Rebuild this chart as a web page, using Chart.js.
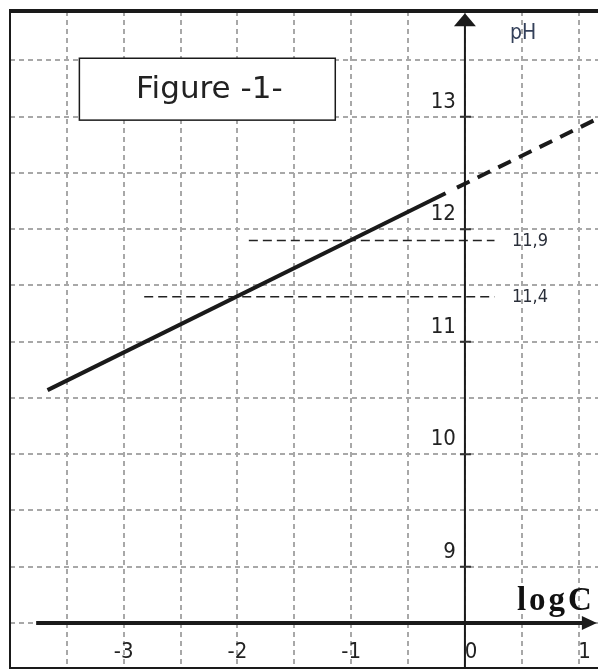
<!DOCTYPE html>
<html>
<head>
<meta charset="utf-8">
<script src="https://cdn.jsdelivr.net/npm/chart.js@4.4.1/dist/chart.umd.min.js"></script>
<style>
  html, body { margin: 0; padding: 0; background: #fff; }
  #wrap { position: relative; width: 598px; height: 670px; }
</style>
</head>
<body>
<div id="wrap"><canvas id="fig"></canvas></div>
<script>
// pH = f(logC), solid part then dashed extrapolation
const solidLogC = [-3.67, -0.17];
const solidPH = [10.57, 12.32];
const extLogC = [-0.07, 1.2];
const extPH = [12.37, 13.0];

// horizontal reading lines
const refPH = [11.9, 11.4];
const refFrom = [-1.9, -2.82];
const refTo = [0.26, 0.26];
const refLabels = ['11,9', '11,4'];

// tick labels
const xTicks = [-3, -2, -1, 0, 1];
const yTicks = [9, 10, 11, 12, 13];

// axis ranges and crossing point
const X_MIN = -4.0, X_MAX = 1.17;
const Y_MIN = 8.1, Y_MAX = 13.94;
const CROSS_PH = 8.5;
const CROSS_LOGC = 0;

const INK = '#1a1a1a';
const GRID = '#a8a8a8';

const toPoints = (xs, ys) => xs.map((x, i) => ({ x, y: ys[i] }));

// Decorations: frame, arrows, labels, title box -------------------------------
const decor = {
	id: 'decor',
	afterDraw(chart) {
		const { ctx, chartArea: a, scales: { x, y } } = chart;
		const ox = x.getPixelForValue(CROSS_LOGC);
		const oy = y.getPixelForValue(CROSS_PH);
		ctx.save();

		// frame (left, top, bottom)
		ctx.strokeStyle = INK;
		ctx.lineWidth = 2;
		ctx.beginPath();
		ctx.moveTo(a.left, a.top);
		ctx.lineTo(a.left, a.bottom);
		ctx.lineTo(a.right, a.bottom);
		ctx.stroke();
		ctx.lineWidth = 4;
		ctx.beginPath();
		ctx.moveTo(a.left - 1, a.top);
		ctx.lineTo(a.right, a.top);
		ctx.stroke();

		// logC axis with arrow
		const xStart = x.getPixelForValue(-3.77);
		const xTip = x.getPixelForValue(1.16);
		ctx.lineWidth = 4;
		ctx.beginPath();
		ctx.moveTo(xStart, oy);
		ctx.lineTo(xTip - 10, oy);
		ctx.stroke();
		ctx.fillStyle = INK;
		ctx.beginPath();
		ctx.moveTo(xTip, oy);
		ctx.lineTo(xTip - 15, oy - 7);
		ctx.lineTo(xTip - 15, oy + 7);
		ctx.closePath();
		ctx.fill();

		// pH axis with arrow
		const yTip = y.getPixelForValue(13.92);
		ctx.lineWidth = 2;
		ctx.beginPath();
		ctx.moveTo(ox, a.bottom);
		ctx.lineTo(ox, yTip + 10);
		ctx.stroke();
		ctx.beginPath();
		ctx.moveTo(ox, yTip);
		ctx.lineTo(ox - 11, yTip + 13);
		ctx.lineTo(ox + 11, yTip + 13);
		ctx.closePath();
		ctx.fill();

		// small tick marks on the pH axis
		ctx.lineWidth = 2;
		ctx.strokeStyle = '#333';
		yTicks.forEach(v => {
			const py = y.getPixelForValue(v);
			ctx.beginPath();
			ctx.moveTo(ox - 5, py);
			ctx.lineTo(ox + 6, py);
			ctx.stroke();
		});

		// tick labels
		ctx.fillStyle = '#222';
		ctx.font = '22px "DejaVu Sans Condensed", "DejaVu Sans", sans-serif';
		ctx.textBaseline = 'alphabetic';
		ctx.textAlign = 'right';
		yTicks.forEach(v => {
			ctx.fillText(String(v), ox - 9, y.getPixelForValue(v) - 9);
		});
		ctx.textAlign = 'center';
		xTicks.forEach(v => {
			ctx.fillText(String(v), x.getPixelForValue(v) + (v >= 0 ? 6 : 0), oy + 35);
		});

		// reading line labels
		ctx.font = '18px "DejaVu Sans Condensed", "DejaVu Sans", sans-serif';
		ctx.textAlign = 'left';
		ctx.textBaseline = 'middle';
		ctx.fillStyle = '#2a2f3a';
		refPH.forEach((v, i) => {
			ctx.fillText(refLabels[i], ox + 47, y.getPixelForValue(v) + 1);
		});

		// axis names
		ctx.fillStyle = '#34405a';
		ctx.font = '21px "DejaVu Sans Condensed", "DejaVu Sans", sans-serif';
		ctx.textBaseline = 'middle';
		ctx.fillText('pH', ox + 45, y.getPixelForValue(13.74));
		ctx.fillStyle = '#111';
		ctx.font = 'bold 33px "Liberation Serif", "DejaVu Serif", serif';
		ctx.textBaseline = 'alphabetic';
		ctx.letterSpacing = '3px';
		ctx.fillText('logC', ox + 52, oy - 13);
		ctx.letterSpacing = '0px';

		// title box
		const bx0 = x.getPixelForValue(-3.39), bx1 = x.getPixelForValue(-1.14);
		const by0 = y.getPixelForValue(13.52), by1 = y.getPixelForValue(12.97);
		ctx.fillStyle = '#fff';
		ctx.fillRect(bx0, by0, bx1 - bx0, by1 - by0);
		ctx.strokeStyle = INK;
		ctx.lineWidth = 1.5;
		ctx.strokeRect(bx0, by0, bx1 - bx0, by1 - by0);
		ctx.fillStyle = '#222';
		ctx.font = '31px "DejaVu Sans", sans-serif';
		ctx.textAlign = 'center';
		ctx.textBaseline = 'middle';
		ctx.fillText('Figure -1-', (bx0 + bx1) / 2 + 2, (by0 + by1) / 2 + 1);

		ctx.restore();
	}
};

// Chart --------------------------------------------------------------------------
const refSets = refPH.map((v, i) => ({
	data: toPoints([refFrom[i], refTo[i]], [v, v]),
	borderColor: '#222',
	borderWidth: 1.5,
	borderDash: [9, 5],
	pointRadius: 0
}));

new Chart(document.getElementById('fig'), {
	type: 'line',
	data: {
		datasets: [
			{
				data: toPoints(solidLogC, solidPH),
				borderColor: INK,
				borderWidth: 4,
				pointRadius: 0
			},
			{
				data: toPoints(extLogC, extPH),
				borderColor: INK,
				borderWidth: 4,
				borderDash: [14, 9],
				pointRadius: 0
			},
			...refSets
		]
	},
	options: {
		animation: false,
		responsive: true,
		maintainAspectRatio: false,
		layout: { padding: { left: 10, top: 11, right: 0, bottom: 2 } },
		plugins: { legend: { display: false }, tooltip: { enabled: false } },
		scales: {
			x: {
				type: 'linear',
				min: X_MIN,
				max: X_MAX,
				ticks: { display: false, stepSize: 0.5, includeBounds: false },
				grid: { color: GRID, lineWidth: 2, drawTicks: false },
				border: { display: false, dash: [5, 4] }
			},
			y: {
				type: 'linear',
				min: Y_MIN,
				max: Y_MAX,
				ticks: { display: false, stepSize: 0.5, includeBounds: false },
				grid: { color: GRID, lineWidth: 2, drawTicks: false },
				border: { display: false, dash: [5, 4] }
			}
		}
	},
	plugins: [decor]
});
</script>
</body>
</html>
